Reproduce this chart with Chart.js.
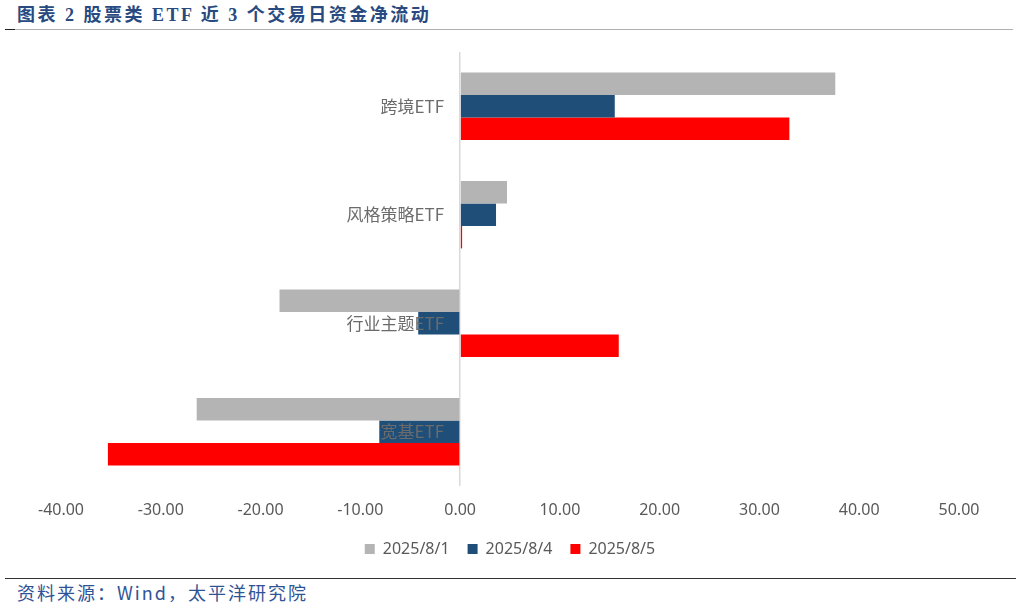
<!DOCTYPE html>
<html>
<head>
<meta charset="utf-8">
<script src="https://cdn.jsdelivr.net/npm/chart.js@4/dist/chart.umd.min.js"></script>
<style>
	body { margin: 0; background: #fff; }
	#page { position: relative; width: 1019px; height: 609px; overflow: hidden; background: #fff; }
	#title {
		position: absolute; left: 17px; top: 0px;
		font: bold 18px "Liberation Serif", "Noto Sans CJK SC", serif;
		letter-spacing: 2.5px; color: #284a80; white-space: nowrap;
	}
	#titleLine { position: absolute; left: 5px; top: 29px; width: 1008px; height: 1px; background: #b0b0b0; }
	#titleLine2 { position: absolute; left: 5px; top: 29px; width: 10px; height: 1px; background: #222; }
	#footLine { position: absolute; left: 5px; top: 578px; width: 1011px; height: 1px; background: #333; }
	#foot {
		position: absolute; left: 17px; top: 579px;
		font: 18px "Noto Sans CJK SC", sans-serif;
		letter-spacing: 2px; color: #2f5496; white-space: nowrap;
	}
	#chartBox { position: absolute; left: 0; top: 35px; width: 1019px; height: 540px; }
</style>
</head>
<body>
<div id="page">
	<div id="title">图表 2 股票类 ETF 近 3 个交易日资金净流动</div>
	<div id="titleLine"></div>
	<div id="titleLine2"></div>
	<div id="chartBox"><canvas id="etf-chartcanvas" width="1019" height="540"></canvas></div>
	<div id="footLine"></div>
	<div id="foot">资料来源：Wind，太平洋研究院</div>
</div>
<script>
// categories, top to bottom
var categories = ["跨境ETF", "风格策略ETF", "行业主题ETF", "宽基ETF"];
// series names
var seriesNames = ["2025/8/1", "2025/8/4", "2025/8/5"];
// net flow values
var flow0801 = [37.6, 4.7, -18.1, -26.4];
var flow0804 = [15.5, 3.6, -4.2, -8.1];
var flow0805 = [33.0, 0.2, 15.9, -35.3];
// x axis range
var xMin = -40;
var xMax = 50;
var xStep = 10;

// draw the category names right next to the zero line
var categoryLabels = {
	id : "categoryLabels",
	afterDatasetsDraw : function(chart) {
		var ctx = chart.ctx;
		var xScale = chart.scales.x;
		var yScale = chart.scales.y;
		var x0 = xScale.getPixelForValue(0);
		ctx.save();
		ctx.font = '17px "Noto Sans CJK SC", sans-serif';
		ctx.fillStyle = "#6b6b6b";
		ctx.textAlign = "right";
		ctx.textBaseline = "middle";
		for (var i = 0; i < categories.length; i++) {
			ctx.fillText(categories[i], x0 - 16, yScale.getPixelForValue(i));
		}
		ctx.restore();
	}
};

var ctx = document.getElementById("etf-chartcanvas");

var chartData = {
	labels : categories,
	datasets : [
		{
			label : seriesNames[0],
			data : flow0801,
			backgroundColor : "#b4b4b4",
			borderWidth : 0
		},
		{
			label : seriesNames[1],
			data : flow0804,
			backgroundColor : "#1f4e79",
			borderWidth : 0
		},
		{
			label : seriesNames[2],
			data : flow0805,
			backgroundColor : "#ff0000",
			borderWidth : 0
		}
	]
};

var chartOptions = {
	indexAxis : "y",
	responsive : false,
	animation : false,
	datasets : {
		bar : {
			categoryPercentage : 0.62,
			barPercentage : 1.0
		}
	},
	layout : {
		padding : { left : 61, right : 60, top : 17, bottom : 8 }
	},
	scales : {
		x : {
			min : xMin,
			max : xMax,
			border : { display : false },
			grid : {
				drawTicks : false,
				lineWidth : 1.5,
				color : function(c) {
					return c.tick && c.tick.value === 0 ? "#d9d9d9" : "rgba(0,0,0,0)";
				}
			},
			ticks : {
				stepSize : xStep,
				padding : 15,
				color : "#595959",
				font : { family : "Noto Sans", size : 16 },
				callback : function(v) { return Number(v).toFixed(2); }
			},
			// keep the axis band tight so the legend sits where it should
			afterFit : function(scale) {
				scale.height = 37;
			}
		},
		y : {
			display : false
		}
	},
	plugins : {
		legend : {
			display : true,
			position : "bottom",
			labels : {
				boxWidth : 10,
				boxHeight : 10,
				padding : 18,
				color : "#595959",
				font : { family : "Noto Sans", size : 16 }
			}
		},
		tooltip : { enabled : false }
	}
};

var etfChart = new Chart(ctx, {
	type : "bar",
	data : chartData,
	options : chartOptions,
	plugins : [categoryLabels]
});
</script>
</body>
</html>
